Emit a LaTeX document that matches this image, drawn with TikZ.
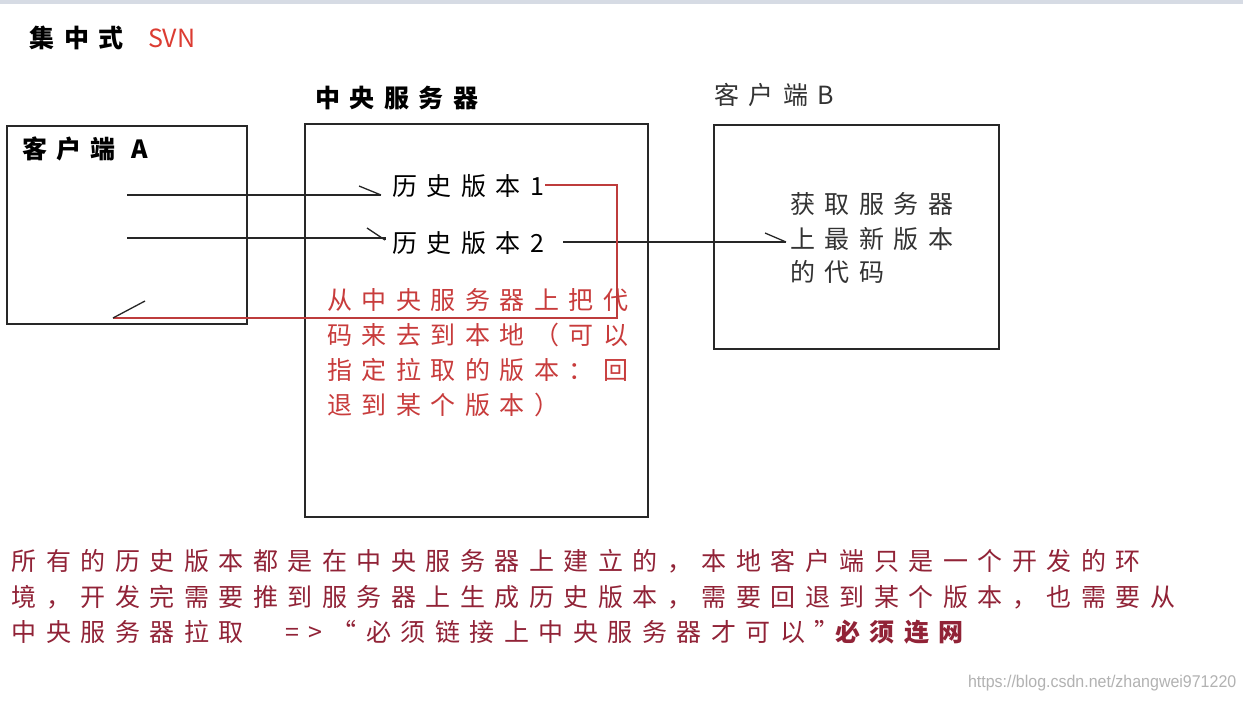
\documentclass[tikz,border=0pt]{standalone}
\usepackage{fontspec}
\usepackage{graphicx}
\usetikzlibrary{arrows.meta}
\newfontfamily\cjk{Noto Sans CJK SC}[LetterSpace=38]
\newfontfamily\cjkplain{Noto Sans CJK SC}
\newfontfamily\wmfont{Liberation Sans}
\definecolor{annot}{RGB}{200,60,60}
\definecolor{redline}{RGB}{190,60,60}
\definecolor{maroon}{RGB}{145,35,55}
\definecolor{svnred}{RGB}{220,60,50}
\definecolor{boxc}{RGB}{40,40,40}
\definecolor{topband}{RGB}{214,219,228}
\tikzset{
  every node/.style={inner sep=0pt, outer sep=0pt},
  lbl/.style={anchor=west, font=\cjk\fontsize{25}{30}\selectfont},
  boldlbl/.style={lbl, font=\cjk\bfseries\fontsize{25}{30}\selectfont},
  box/.style={draw=boxc, line width=1.6pt, anchor=north west, fill=none},
  conn/.style={draw=black!85, line width=1.3pt},
  barb/.style={draw=black!85, line width=1.3pt},
  rconn/.style={draw=redline, line width=1.3pt},
}
\begin{document}
\begin{tikzpicture}[x=1pt,y=-1pt]
\useasboundingbox (0,0) rectangle (1243,701);
\fill[white] (0,0) rectangle (1243,701);
\fill[topband] (0,0) rectangle (1243,4);

% title
\node[boldlbl] (title) at (30,38) {集中式};
\node[anchor=west, font=\cjkplain\fontsize{25}{30}\selectfont, text=svnred] (svn) at (148,38) {SVN};

% boxes
\node[box, minimum width=240, minimum height=198] (A) at (7,126) {};
\node[box, minimum width=343, minimum height=393] (S) at (305,124) {};
\node[box, minimum width=285, minimum height=224] (B) at (714,125) {};

% labels
\node[boldlbl] (Slbl) at (315,98) {中央服务器};
\node[boldlbl] (Albl) at (22,149) {客户端 A};
\node[lbl, text=black!80] (Blbl) at (714,95) {客户端B};

% history versions
\node[lbl] (h1) at (392,186) {历史版本1};
\node[lbl] (h2) at (392,243) {历史版本2};

% client B text
\node[lbl, text=black!80] (b1) at (790,204) {获取服务器};
\node[lbl, text=black!80] (b2) at (790,239) {上最新版本};
\node[lbl, text=black!80] (b3) at (790,272) {的代码};

% red annotation
\node[lbl, text=annot] (r1) at (327,300) {从中央服务器上把代};
\node[lbl, text=annot] (r2) at (327,335) {码来去到本地（可以};
\node[lbl, text=annot] (r3) at (327,370) {指定拉取的版本：回};
\node[lbl, text=annot] (r4) at (327,405) {退到某个版本）};

% connectors
\coordinate (s1) at (127,195);
\coordinate (e1) at (381,195);
\coordinate (s2) at (127,238);
\coordinate (e2) at (385,240);
\coordinate (s3) at (563,242);
\coordinate (e3) at (786,242);
\coordinate (r0) at (545,185);
\coordinate (rc1) at (617,185);
\coordinate (rc2) at (617,318);
\coordinate (eA) at (113,318);

\draw[conn] (s1) -- (e1);
\draw[barb] (e1) -- ++(-22,-9);
\draw[conn] (s2) -- (s2 -| e2) -- (e2);
\draw[barb] (e2) -- ++(-18,-12);
\draw[conn] (s3) -- (e3);
\draw[barb] (e3) -- ++(-21,-9);
\draw[rconn] (r0) -- (rc1) -- (rc2) -- (eA);
\draw[barb] (eA) -- ++(32,-17);

% bottom text
\node[lbl, text=maroon] (t1) at (12,561) {所有的历史版本都是在中央服务器上建立的，本地客户端只是一个开发的环};
\node[lbl, text=maroon] (t2) at (12,597) {境，开发完需要推到服务器上生成历史版本，需要回退到某个版本，也需要从};
\node[lbl, text=maroon] (t3a) at (12,632) {中央服务器拉取};
\node[lbl, text=maroon] (t3b) at (285,632) {=>“必须链接上中央服务器才可以”};
\node[boldlbl, text=maroon] (t3c) at (835,632) {必须连网};

% watermark
\node[anchor=west, font=\wmfont\fontsize{17}{20}\selectfont, text=black!30] (wm) at (968,683) {\scalebox{0.94}[1]{https://blog.csdn.net/zhangwei971220}};
\end{tikzpicture}
\end{document}
